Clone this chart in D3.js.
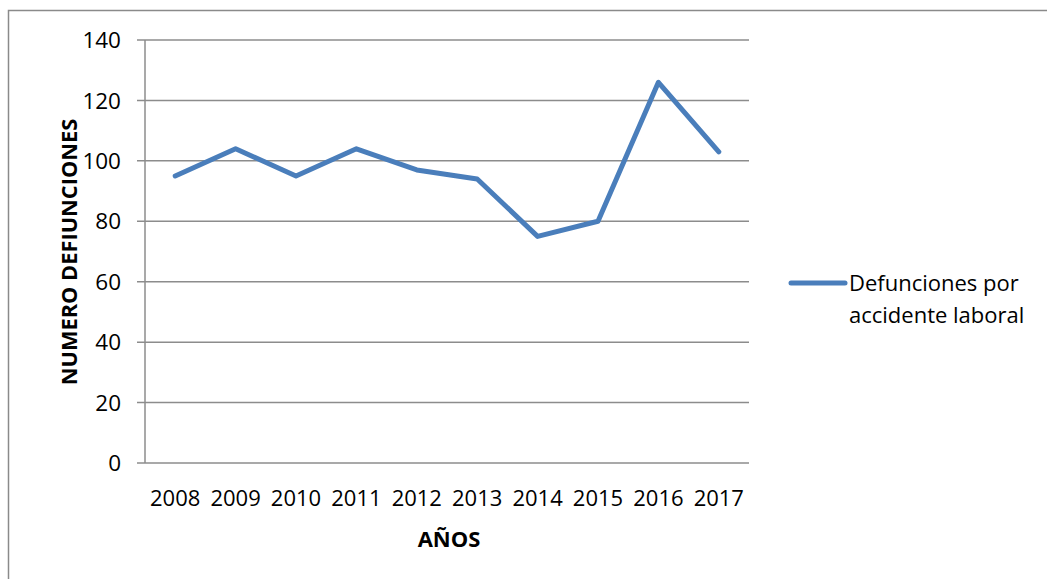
<!DOCTYPE html>
<html><head><meta charset="utf-8">
<script src="https://cdn.jsdelivr.net/npm/d3@7"></script>
<style>body{margin:0;background:#fff}svg{display:block}</style>
</head><body>
<script>
const years = ["2008","2009","2010","2011","2012","2013","2014","2015","2016","2017"];
const deaths = [95,104,95,104,97,94,75,80,126,103];
const yTicks = [0,20,40,60,80,100,120,140];
const seriesName = ["Defunciones por","accidente laboral"];
const xTitle = "AÑOS";
const yTitle = "NUMERO DEFIUNCIONES";

(function(){
const W=1047,H=579;
const font = "'Open Sans', Lato, sans-serif";
const svg = d3.select("body").append("svg").attr("width",W).attr("height",H);
svg.append("rect").attr("x",8.5).attr("y",10.5).attr("width",W).attr("height",H).attr("fill","none").attr("stroke","#8a8a8a").attr("stroke-width",1.5);

const pL=145,pR=749,pT=40,pB=463;
const x = d3.scalePoint().domain(years).range([pL,pR]).padding(0.5);
const y = d3.scaleLinear().domain([0,140]).range([pB,pT]);

const grid = svg.append("g");
grid.selectAll("line").data(yTicks).join("line")
  .attr("x1",pL-8).attr("x2",pR).attr("y1",d=>y(d)).attr("y2",d=>y(d))
  .attr("stroke","#8c8c8c").attr("stroke-width",1.5);
svg.append("line").attr("x1",pL).attr("x2",pL).attr("y1",pT).attr("y2",pB)
  .attr("stroke","#8c8c8c").attr("stroke-width",1.5);

svg.append("g").selectAll("text").data(yTicks).join("text")
  .attr("x",pL-24).attr("y",d=>y(d)).attr("dy","0.36em").attr("text-anchor","end")
  .attr("font-family",font).attr("font-size",22.5).attr("fill","#000").text(d=>d);

svg.append("g").selectAll("text").data(years).join("text")
  .attr("x",d=>x(d)).attr("y",506).attr("text-anchor","middle")
  .attr("font-family",font).attr("font-size",22).attr("fill","#000").text(d=>d);

svg.append("text").attr("x",449).attr("y",547).attr("text-anchor","middle")
  .attr("font-family",font).attr("font-size",22).attr("font-weight","bold").text(xTitle);
svg.append("text").attr("transform","translate(77,252) rotate(-90)").attr("text-anchor","middle")
  .attr("font-family",font).attr("font-size",21.8).attr("font-weight","bold").text(yTitle);

const line = d3.line().x((d,i)=>x(years[i])).y(d=>y(d));
svg.append("path").datum(deaths).attr("d",line).attr("fill","none")
  .attr("stroke","#4a7ebb").attr("stroke-width",5).attr("stroke-linejoin","round").attr("stroke-linecap","round");

svg.append("line").attr("x1",791).attr("x2",845).attr("y1",283).attr("y2",283)
  .attr("stroke","#4a7ebb").attr("stroke-width",5).attr("stroke-linecap","round");
svg.append("g").selectAll("text").data(seriesName).join("text")
  .attr("x",849).attr("y",(d,i)=>291+i*32)
  .attr("font-family",font).attr("font-size",22).attr("fill","#000").text(d=>d);
})();
</script>
</body></html>
